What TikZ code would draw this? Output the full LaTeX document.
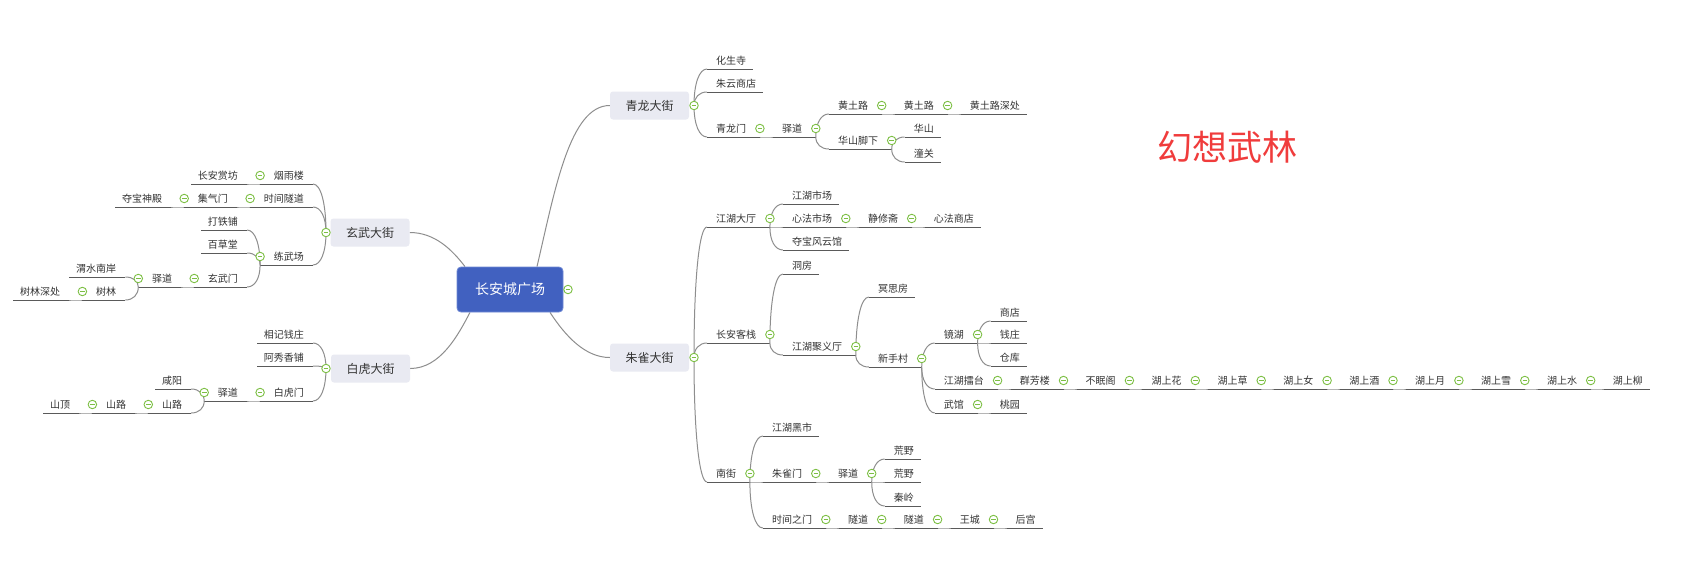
\documentclass[tikz,border=0pt]{standalone}
\usepackage{fontspec}
\setmainfont{Noto Sans CJK SC}
\usetikzlibrary{calc}
\definecolor{lnk}{HTML}{8E8E8E}
\definecolor{uln}{HTML}{5A5A5A}
\definecolor{txtc}{HTML}{333333}
\definecolor{grn}{HTML}{7CBF43}
\definecolor{brfill}{HTML}{E9EAF2}
\definecolor{ctrfill}{HTML}{4161C0}
\definecolor{ctrline}{HTML}{7089D4}
\definecolor{ttl}{HTML}{F03C3C}
\pgfdeclarelayer{bg}
\pgfsetlayers{bg,main}
\tikzset{
 link/.style={draw=lnk, line width=1pt},
 uline/.style={draw=uln, line width=1pt},
 txt/.style={inner sep=0pt, text=txtc, font=\fontsize{10}{12}\selectfont},
 fold/.style={circle, draw=grn, fill=white, line width=0.9pt, minimum size=8.5pt, inner sep=0pt,
   path picture={\draw[grn, line width=0.9pt] ([xshift=-2.3pt]path picture bounding box.center) -- ([xshift=2.3pt]path picture bounding box.center);}},
 branch/.style={fill=brfill, rounded corners=3pt, minimum width=79pt, minimum height=28pt, inner sep=0pt, text=txtc, font=\fontsize{12}{14}\selectfont},
 center/.style={fill=ctrfill, draw=ctrline, line width=0.8pt, rounded corners=4pt, minimum width=106pt, minimum height=45pt, inner sep=0pt, text=white, font=\fontsize{14}{16}\selectfont},
 title/.style={inner sep=0pt, text=ttl, font=\fontsize{35}{40}\selectfont}
}
\newcommand\cn[2]{\draw[link] (#1) .. controls ($(#1)!0.6!(#1|-#2)$) and ($(#1|-#2)!0.4!(#2)$) .. (#2);}
% right side parent
\newcommand\Rp[4]{%
 \coordinate (#2-y) at (0,#3);
 \path (#1-e) ++(13,0) coordinate (#2-x);
 \coordinate (#2-l) at (#2-x |- #2-y);
 \node[txt, anchor=west] (#2) at ($(#2-l)+(9,-8.5)$) {#4};
 \node[fold] (#2-c) at ($(#2.east)+(13.5,0)$) {};
 \coordinate (#2-e) at (#2-c |- #2-l);
 \begin{pgfonlayer}{bg}\draw[uline] (#2-l) -- (#2-e); \cn{#1-e}{#2-l}\end{pgfonlayer}}
% right side leaf
\newcommand\Rl[4]{%
 \coordinate (#2-y) at (0,#3);
 \path (#1-e) ++(13,0) coordinate (#2-x);
 \coordinate (#2-l) at (#2-x |- #2-y);
 \node[txt, anchor=west] (#2) at ($(#2-l)+(9,-8.5)$) {#4};
 \path (#2.east) ++(7,0) coordinate (#2-ex);
 \coordinate (#2-e) at (#2-ex |- #2-l);
 \begin{pgfonlayer}{bg}\draw[uline] (#2-l) -- (#2-e); \cn{#1-e}{#2-l}\end{pgfonlayer}}
% left side parent
\newcommand\Lp[4]{%
 \coordinate (#2-y) at (0,#3);
 \path (#1-e) ++(-13,0) coordinate (#2-x);
 \coordinate (#2-l) at (#2-x |- #2-y);
 \node[txt, anchor=east] (#2) at ($(#2-l)+(-9,-8.5)$) {#4};
 \node[fold] (#2-c) at ($(#2.west)+(-13.5,0)$) {};
 \coordinate (#2-e) at (#2-c |- #2-l);
 \begin{pgfonlayer}{bg}\draw[uline] (#2-l) -- (#2-e); \cn{#1-e}{#2-l}\end{pgfonlayer}}
% left side leaf
\newcommand\Ll[4]{%
 \coordinate (#2-y) at (0,#3);
 \path (#1-e) ++(-13,0) coordinate (#2-x);
 \coordinate (#2-l) at (#2-x |- #2-y);
 \node[txt, anchor=east] (#2) at ($(#2-l)+(-9,-8.5)$) {#4};
 \path (#2.west) ++(-7,0) coordinate (#2-ex);
 \coordinate (#2-e) at (#2-ex |- #2-l);
 \begin{pgfonlayer}{bg}\draw[uline] (#2-l) -- (#2-e); \cn{#1-e}{#2-l}\end{pgfonlayer}}
\begin{document}
\begin{tikzpicture}[x=1pt,y=-1pt]
\useasboundingbox (0,0) rectangle (1682,565);
\begin{pgfonlayer}{bg}\fill[white] (0,0) rectangle (1682,565);\end{pgfonlayer}
% central node
\node[center] (ctr) at (510,289.5) {长安城广场};
\node[fold] (ctr-c) at (568,289.5) {};
\coordinate (ctr-ne) at ($(ctr.north)+(27,0)$);
\coordinate (ctr-se) at ($(ctr.south)+(40,0)$);
\coordinate (ctr-nw) at ($(ctr.north)+(-45,0)$);
\coordinate (ctr-sw) at ($(ctr.south)+(-40,0)$);
% main branches
\node[branch] (ql) at (649.5,105.5) {青龙大街};
\node[fold] (ql-c) at (694,105.5) {};
\coordinate (ql-e) at (ql-c);
\node[branch] (zq) at (649.5,357.5) {朱雀大街};
\node[fold] (zq-c) at (694,357.5) {};
\coordinate (zq-e) at (zq-c);
\node[branch] (xw) at (370,232.5) {玄武大街};
\node[fold] (xw-c) at (326,232.5) {};
\coordinate (xw-e) at (xw-c);
\node[branch] (bh) at (370.5,368.5) {白虎大街};
\node[fold] (bh-c) at (326,368.5) {};
\coordinate (bh-e) at (bh-c);
\begin{pgfonlayer}{bg}
\draw[link] (ctr-ne) .. controls +(18,-77) and +(-40,0) .. (ql.west);
\draw[link] (ctr-se) .. controls +(15,23) and +(-25,0) .. (zq.west);
\draw[link] (xw.east) .. controls +(25,0) and +(-13,-17) .. (ctr-nw);
\draw[link] (bh.east) .. controls +(30,0) and +(-12,23) .. (ctr-sw);
\end{pgfonlayer}
% title
\node[title] (ttlnode) at (1227,147) {幻想武林};
% 青龙大街
\Rl{ql}{ql1}{69}{化生寺}
\Rl{ql}{ql2}{92}{朱云商店}
\Rp{ql}{ql3}{137}{青龙门}
\Rp{ql3}{ql4}{137}{驿道}
\Rp{ql4}{ql5}{114}{黄土路}
\Rp{ql5}{ql6}{114}{黄土路}
\Rl{ql6}{ql7}{114}{黄土路深处}
\Rp{ql4}{ql8}{149}{华山脚下}
\Rl{ql8}{ql9}{137}{华山}
\Rl{ql8}{ql10}{162}{潼关}
% 朱雀大街
\Rp{zq}{zq1}{227}{江湖大厅}
\Rl{zq1}{zq2}{204}{江湖市场}
\Rp{zq1}{zq3}{227}{心法市场}
\Rp{zq3}{zq4}{227}{静修斋}
\Rl{zq4}{zq5}{227}{心法商店}
\Rl{zq1}{zq6}{250}{夺宝风云馆}
\Rp{zq}{zq7}{343}{长安客栈}
\Rl{zq7}{zq8}{274}{洞房}
\Rp{zq7}{zq9}{355}{江湖聚义厅}
\Rl{zq9}{zq10}{297}{冥思房}
\Rp{zq9}{zq11}{367}{新手村}
\Rp{zq11}{zq12}{343}{镜湖}
\Rl{zq12}{zq13}{321}{商店}
\Rl{zq12}{zq14}{343}{钱庄}
\Rl{zq12}{zq15}{366}{仓库}
\Rp{zq11}{zq16}{389}{江湖擂台}
\Rp{zq16}{zq40}{389}{群芳楼}
\Rp{zq40}{zq41}{389}{不眠阁}
\Rp{zq41}{zq42}{389}{湖上花}
\Rp{zq42}{zq43}{389}{湖上草}
\Rp{zq43}{zq44}{389}{湖上女}
\Rp{zq44}{zq45}{389}{湖上酒}
\Rp{zq45}{zq46}{389}{湖上月}
\Rp{zq46}{zq47}{389}{湖上雪}
\Rp{zq47}{zq48}{389}{湖上水}
\Rl{zq48}{zq49}{389}{湖上柳}
\Rp{zq11}{zq17}{413}{武馆}
\Rl{zq17}{zq18}{413}{桃园}
\Rp{zq}{zq20}{482}{南街}
\Rl{zq20}{zq21}{436}{江湖黑市}
\Rp{zq20}{zq22}{482}{朱雀门}
\Rp{zq22}{zq23}{482}{驿道}
\Rl{zq23}{zq24}{459}{荒野}
\Rl{zq23}{zq25}{482}{荒野}
\Rl{zq23}{zq26}{506}{秦岭}
\Rp{zq20}{zq27}{528}{时间之门}
\Rp{zq27}{zq28}{528}{隧道}
\Rp{zq28}{zq29}{528}{隧道}
\Rp{zq29}{zq30}{528}{王城}
\Rl{zq30}{zq31}{528}{后宫}
% 玄武大街
\Lp{xw}{xw1}{184}{烟雨楼}
\Ll{xw1}{xw2}{184}{长安赏坊}
\Lp{xw}{xw3}{207}{时间隧道}
\Lp{xw3}{xw4}{207}{集气门}
\Ll{xw4}{xw5}{207}{夺宝神殿}
\Lp{xw}{xw6}{265}{练武场}
\Ll{xw6}{xw7}{230}{打铁铺}
\Ll{xw6}{xw8}{253}{百草堂}
\Lp{xw6}{xw9}{287}{玄武门}
\Lp{xw9}{xw10}{287}{驿道}
\Ll{xw10}{xw11}{277}{渭水南岸}
\Lp{xw10}{xw12}{300}{树林}
\Ll{xw12}{xw13}{300}{树林深处}
% 白虎大街
\Ll{bh}{bh1}{343}{相记钱庄}
\Ll{bh}{bh2}{366}{阿秀香铺}
\Lp{bh}{bh3}{401}{白虎门}
\Lp{bh3}{bh4}{401}{驿道}
\Ll{bh4}{bh5}{389}{咸阳}
\Lp{bh4}{bh6}{413}{山路}
\Lp{bh6}{bh7}{413}{山路}
\Ll{bh7}{bh8}{413}{山顶}
\end{tikzpicture}
\end{document}
